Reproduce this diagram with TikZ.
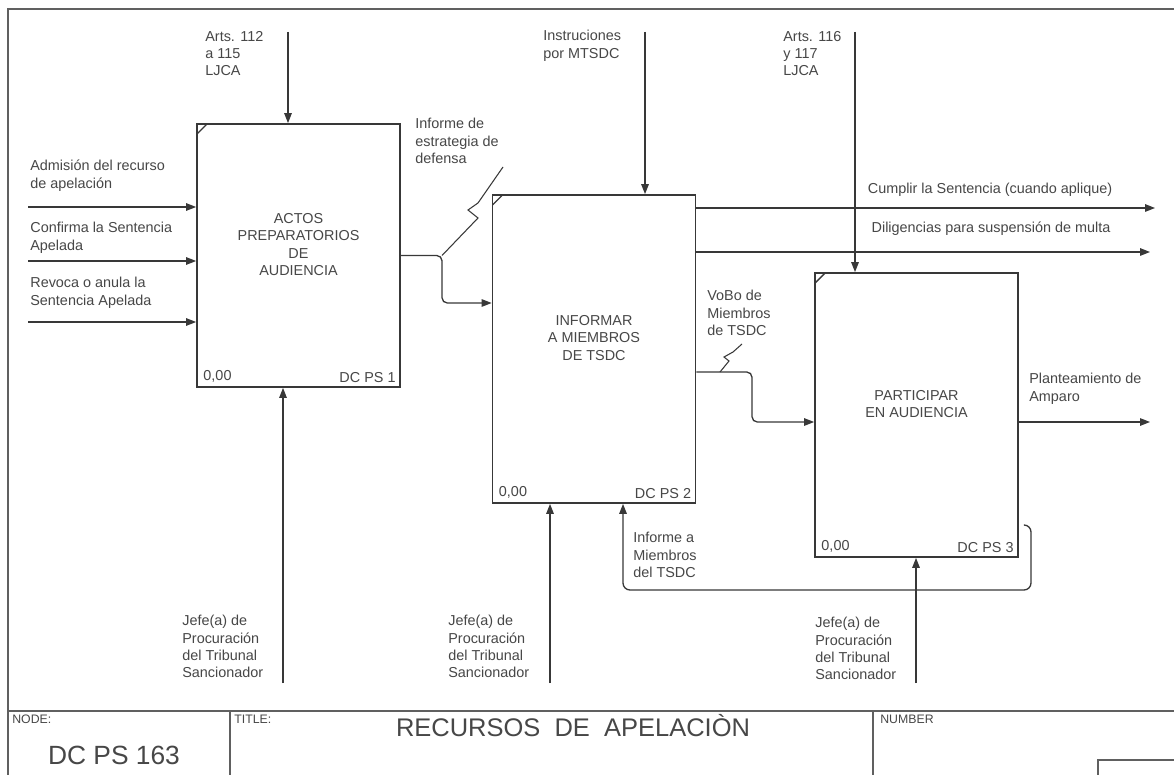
\documentclass[tikz,border=0pt]{standalone}
\usepackage{fontspec}
\setmainfont{Liberation Sans}
\usetikzlibrary{arrows.meta}
\definecolor{ink}{gray}{0.22}
\definecolor{txt}{gray}{0.28}
\begin{document}
\begin{tikzpicture}[
    x=0.2mm, y=-0.2mm,
    actnode/.style={rectangle, draw=ink, line width=1pt, inner sep=0pt, minimum width=40.6mm,
        path picture={\draw[ink, line width=0.8pt] ([yshift=-2mm]path picture bounding box.north west) -- ++(2mm,2mm);}},
    boxtxt/.style={align=center, text=txt, font=\fontsize{8.2}{9.8}\selectfont, inner sep=0pt},
    ctxt/.style={text=txt, font=\fontsize{8.2}{9.8}\selectfont, inner sep=0pt},
    lbl/.style={align=left, text=txt, font=\fontsize{8.2}{9.8}\selectfont, inner sep=0pt, anchor=north west},
    flow/.style={-{Triangle[length=2mm, width=1.5mm]}, draw=ink, line width=0.75pt},
    squig/.style={draw=ink, line width=0.6pt},
    frame/.style={draw=ink!80, line width=0.8pt},
]
\useasboundingbox (0,0) rectangle (1174,775);
\fill[white] (0,0) rectangle (1174,775);
% activity boxes
\node[actnode, minimum height=52.6mm] (a1) at (298.5,255.5) {};
\node[actnode, minimum height=61.6mm] (a2) at (594,349) {};
\node[actnode, minimum height=56.8mm] (a3) at (916.5,415) {};
\node[boxtxt] (a1t) at ([yshift=2.2mm]a1.center) {ACTOS\\PREPARATORIOS\\DE\\AUDIENCIA};
\node[boxtxt] (a2t) at ([yshift=2.2mm]a2.center) {INFORMAR\\A MIEMBROS\\DE TSDC};
\node[boxtxt] (a3t) at ([yshift=2.2mm]a3.center) {PARTICIPAR\\EN AUDIENCIA};
\node[ctxt, anchor=south west] (a1c) at ([shift={(1.4mm,1mm)}]a1.south west) {0,00};
\node[ctxt, anchor=south east] (a1n) at ([shift={(-1mm,1mm)}]a1.south east) {DC PS 1};
\node[ctxt, anchor=south west] (a2c) at ([shift={(1.4mm,1mm)}]a2.south west) {0,00};
\node[ctxt, anchor=south east] (a2n) at ([shift={(-1mm,1mm)}]a2.south east) {DC PS 2};
\node[ctxt, anchor=south west] (a3c) at ([shift={(1.4mm,1mm)}]a3.south west) {0,00};
\node[ctxt, anchor=south east] (a3n) at ([shift={(-1mm,1mm)}]a3.south east) {DC PS 3};
% controls
\coordinate (c1) at (288,32);
\coordinate (c2) at (645,32);
\coordinate (c3) at (855,32);
\node[lbl] (lc1) at (205,31) {Arts. 112\\a 115\\LJCA};
\node[lbl] (lc2) at (543,30) {Instruciones\\por MTSDC};
\node[lbl] (lc3) at (783,31) {Arts. 116\\y 117\\LJCA};
% inputs
\coordinate (i1) at (28,207);
\coordinate (i2) at (28,261);
\coordinate (i3) at (28,322);
\node[lbl] (li1) at (30,160) {Admisión del recurso\\de apelación};
\node[lbl] (li2) at (30,222) {Confirma la Sentencia\\Apelada};
\node[lbl] (li3) at (30,277) {Revoca o anula la\\Sentencia Apelada};
% outputs
\coordinate (k1) at (442,303);
\coordinate (k2) at (752,372);
\coordinate (k3) at (752,422);
\coordinate (o1) at (1155,208);
\coordinate (o2) at (1150,252);
\coordinate (o3) at (1150,422);
\coordinate (f1) at (1031,525);
\coordinate (f2) at (623,590);
\node[lbl] (lo1) at (415,118) {Informe de\\estrategia de\\defensa};
\node[ctxt] (lo2) at (990,190) {Cumplir la Sentencia (cuando aplique)};
\node[ctxt] (lo3) at (991,229) {Diligencias para suspensión de multa};
\node[lbl] (lo4) at (707,290) {VoBo de\\Miembros\\de TSDC};
\node[lbl] (lo5) at (1029,373) {Planteamiento de\\Amparo};
\node[lbl] (lf) at (633,532) {Informe a\\Miembros\\del TSDC};
% mechanisms
\coordinate (m1) at (283,683);
\coordinate (m2) at (550,683);
\coordinate (m3) at (916,683);
\node[lbl] (lm1) at (182,615) {Jefe(a) de\\Procuración\\del Tribunal\\Sancionador};
\node[lbl] (lm2) at (448,615) {Jefe(a) de\\Procuración\\del Tribunal\\Sancionador};
\node[lbl] (lm3) at (815,617) {Jefe(a) de\\Procuración\\del Tribunal\\Sancionador};
% arrows
\draw[flow] (c1) -- (c1 |- a1.north);
\draw[flow] (c2) -- (c2 |- a2.north);
\draw[flow] (c3) -- (c3 |- a3.north);
\draw[flow] (i1) -- (i1 -| a1.west);
\draw[flow] (i2) -- (i2 -| a1.west);
\draw[flow] (i3) -- (i3 -| a1.west);
\draw[flow, rounded corners=3pt] (a1.east) -| (k1) -- (k1 -| a2.west);
\draw[squig] (a1.east -| k1) -- (478,218) -- (468,210) -- (478,203) -- (503,167);
\draw[flow] (o1 -| a2.east) -- (o1);
\draw[flow] (o2 -| a2.east) -- (o2);
\draw[flow, rounded corners=3pt] (k2 -| a2.east) -- (k2) -- (k3) -- (k3 -| a3.west);
\draw[squig] (720,372) -- (729,361) -- (724,357) -- (733,352) -- (742,344);
\draw[flow] (o3 -| a3.east) -- (o3);
\draw[flow, rounded corners=4pt] ([xshift=1mm]f1 -| a3.east) -- (f1) |- (f2) -- (f2 |- a2.south);
\draw[flow] (m1) -- (m1 |- a1.south);
\draw[flow] (m2) -- (m2 |- a2.south);
\draw[flow] (m3) -- (m3 |- a3.south);
% frame and title block
\draw[frame] (8,775) -- (8,9) -- (1174,9);
\draw[frame] (8,711) -- (1174,711);
\draw[frame] (230,711) -- (230,775);
\draw[frame] (873,711) -- (873,775);
\draw[frame] (1098,775) -- (1098,760) -- (1174,760);
\node[ctxt, font=\fontsize{7}{8}\selectfont, anchor=north west] (tnode) at (12,715) {NODE:};
\node[ctxt, font=\fontsize{15}{16}\selectfont] (tnum) at (114,755) {DC PS 163};
\node[ctxt, font=\fontsize{7}{8}\selectfont, anchor=north west] (ttitle) at (234,715) {TITLE:};
\node[ctxt, font=\fontsize{14.5}{16}\selectfont] (tname) at (573,726) {RECURSOS\ \ DE\ \ APELACIÒN};
\node[ctxt, font=\fontsize{7}{8}\selectfont, anchor=north west] (tnumber) at (880,715) {NUMBER};
\end{tikzpicture}
\end{document}
